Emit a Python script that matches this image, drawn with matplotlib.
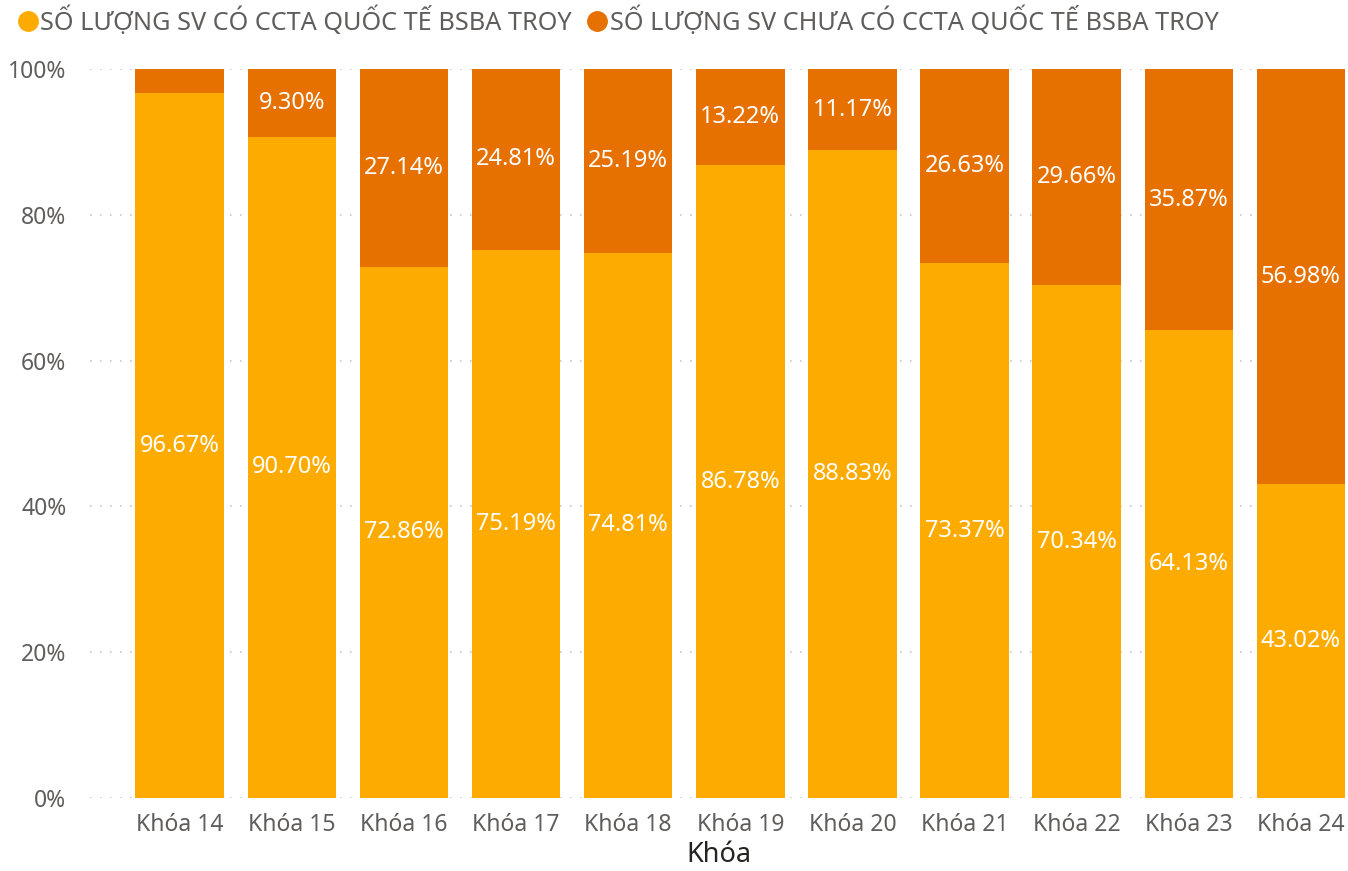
import numpy as np
import matplotlib.pyplot as plt
from matplotlib.lines import Line2D

plt.rcParams['font.family'] = ['Noto Sans', 'DejaVu Sans']

# data
khoa = ['Khóa 14', 'Khóa 15', 'Khóa 16', 'Khóa 17', 'Khóa 18', 'Khóa 19',
        'Khóa 20', 'Khóa 21', 'Khóa 22', 'Khóa 23', 'Khóa 24']
co_ccta = [96.67, 90.70, 72.86, 75.19, 74.81, 86.78, 88.83, 73.37, 70.34, 64.13, 43.02]
chua_ccta = [3.33, 9.30, 27.14, 24.81, 25.19, 13.22, 11.17, 26.63, 29.66, 35.87, 56.98]
series_names = ['SỐ LƯỢNG SV CÓ CCTA QUỐC TẾ BSBA TROY',
                'SỐ LƯỢNG SV CHƯA CÓ CCTA QUỐC TẾ BSBA TROY']
yticks = [0, 20, 40, 60, 80, 100]

c_yellow = '#FEAB00'
c_orange = '#E67000'
c_text = '#605E5C'

fig = plt.figure(figsize=(13.48, 8.71), dpi=100)
ax = fig.add_axes([0.0668, 0.0838, 0.9332, 0.837])

x = np.arange(len(khoa))
w = 0.79
ax.bar(x, co_ccta, width=w, color=c_yellow, zorder=2)
ax.bar(x, chua_ccta, width=w, bottom=co_ccta, color=c_orange, zorder=2)

for i in range(len(khoa)):
    ax.text(x[i], co_ccta[i] / 2, f'{co_ccta[i]:.2f}%', ha='center', va='center',
            color='white', fontsize=17)
    # the small top segment of Khóa 14 has no label
    if chua_ccta[i] >= 5:
        ax.text(x[i], co_ccta[i] + chua_ccta[i] / 2, f'{chua_ccta[i]:.2f}%',
                ha='center', va='center', color='white', fontsize=17)

ax.set_xlim(-0.8, 10.42)
ax.set_ylim(0, 100)
ax.set_yticks(yticks)
ax.set_yticklabels([f'{v}%' for v in yticks])
ax.set_xticks(x)
ax.set_xticklabels(khoa)
ax.tick_params(axis='both', length=0, labelsize=16.5, colors=c_text)
ax.tick_params(axis='y', pad=17)
ax.tick_params(axis='x', pad=11)
ax.grid(axis='y', color='#C8C8C8', linestyle=(0, (1, 5)), linewidth=1.2, zorder=0)
for s in ax.spines.values():
    s.set_visible(False)
ax.set_xlabel('Khóa', fontsize=19.5, color='#252423', labelpad=3)

handles = [Line2D([], [], marker='o', linestyle='none', markersize=14, color=c)
           for c in (c_yellow, c_orange)]
fig.legend(handles, series_names, loc='upper left', bbox_to_anchor=(0.0, 1.01),
           ncol=2, frameon=False, fontsize=18.2, labelcolor=c_text,
           handletextpad=0.0, columnspacing=0.5, borderaxespad=0.2, handlelength=1.0)

fig.savefig('out.png', dpi=100)
